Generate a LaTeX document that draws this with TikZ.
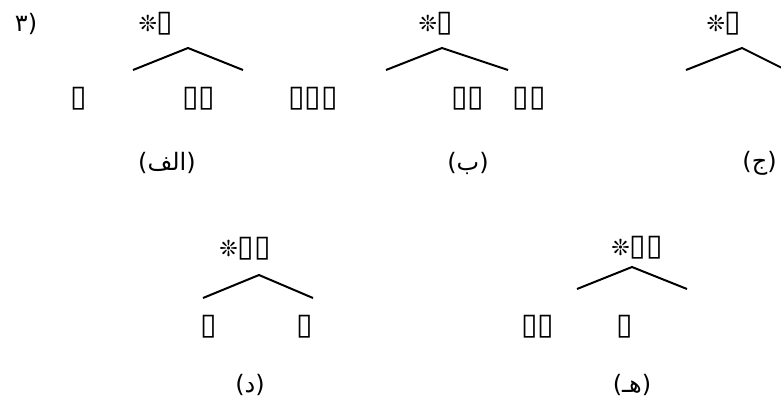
\documentclass[tikz,border=0pt]{standalone}
\usepackage{fontspec}
\newfontfamily\arabicfont[Script=Arabic]{DejaVu Sans}
\newfontfamily\symbfont{DejaVu Sans}
\TeXXeTstate=1
\newcommand{\tofu}{{\fontsize{15}{18}\selectfont ▯}}
\newcommand{\flower}{{\fontsize{11}{13}\selectfont ❊}}

\begin{document}
\begin{tikzpicture}[x=0.5pt, y=-0.5pt,
        head/.style={inner sep=0pt, font=\symbfont},
        leaf/.style={inner sep=0pt, font=\symbfont},
        caption/.style={inner sep=0pt, font=\arabicfont\fontsize{12}{14}\selectfont},
        branch/.style={line width=1pt}
    ]
        \useasboundingbox (0,0) rectangle (781,398);
        \clip (0,0) rectangle (781,398);

        % Numero
        \node[caption] (num) at (26,24) {(۳};

        % Albero (الف)
        \node[head] (headA) at (156,24) {\flower\tofu};
        \coordinate (topA) at (188,48);
        \coordinate (leftA) at (133,70);
        \coordinate (rightA) at (243,70);
        \draw[branch] (leftA) -- (topA) -- (rightA);
        \node[leaf] (leafA1) at (79,99) {\tofu};
        \node[leaf] (leafA2) at (199,99) {\tofu\tofu};
        \node[leaf] (leafA3) at (313,99) {\tofu\tofu\tofu};
        \node[caption] (capA) at (167,163) {\beginR(الف)\endR};

        % Albero (ب)
        \node[head] (headB) at (436,24) {\flower\tofu};
        \coordinate (topB) at (442,48);
        \coordinate (leftB) at (386,70);
        \coordinate (rightB) at (508,70);
        \draw[branch] (leftB) -- (topB) -- (rightB);
        \node[leaf] (leafB1) at (468,99) {\tofu\tofu};
        \node[leaf] (leafB2) at (529,99) {\tofu\tofu};
        \node[caption] (capB) at (468,163) {\beginR(ب)\endR};

        % Albero (ج)
        \node[head] (headC) at (724,24) {\flower\tofu};
        \coordinate (topC) at (742,48);
        \coordinate (leftC) at (686,70);
        \coordinate (rightC) at (786,70);
        \draw[branch] (leftC) -- (topC) -- (rightC);
        \node[caption, anchor=west] (capC) at (742,163) {\beginR(ج)\endR};

        % Albero (د)
        \node[head] (headD) at (245,249) {\flower\tofu\tofu};
        \coordinate (topD) at (259,275);
        \coordinate (leftD) at (203,298);
        \coordinate (rightD) at (313,298);
        \draw[branch] (leftD) -- (topD) -- (rightD);
        \node[leaf] (leafD1) at (209,327) {\tofu};
        \node[leaf] (leafD2) at (305,327) {\tofu};
        \node[caption] (capD) at (250,385) {\beginR(د)\endR};

        % Albero (هـ)
        \node[head] (headE) at (637,248) {\flower\tofu\tofu};
        \coordinate (topE) at (632,267);
        \coordinate (leftE) at (577,289);
        \coordinate (rightE) at (687,289);
        \draw[branch] (leftE) -- (topE) -- (rightE);
        \node[leaf] (leafE1) at (538,327) {\tofu\tofu};
        \node[leaf] (leafE2) at (625,327) {\tofu};
        \node[caption] (capE) at (632,385) {\beginR(هـ)\endR};
    \end{tikzpicture}
\end{document}
